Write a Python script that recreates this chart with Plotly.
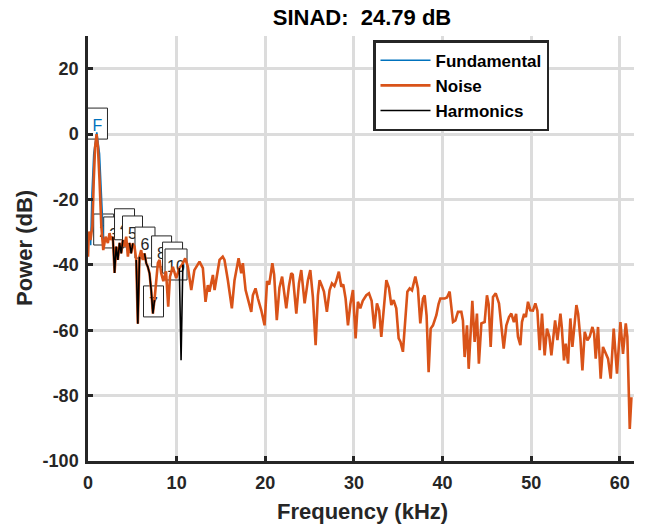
import plotly.graph_objects as go

# ---------------- data ----------------
noise_f = [0.0, 0.1, 0.28, 0.5, 0.65, 0.8, 0.97, 1.12, 1.3, 1.5, 1.72,
           1.98, 2.24, 2.43, 2.6, 2.8, 3.0, 3.18, 3.37, 3.56, 3.75, 3.93, 4.12, 4.31, 4.5,
           4.68, 4.87, 5.06, 5.25, 5.44, 5.62, 5.81, 6.0, 6.19, 6.38, 6.57, 6.75, 6.94,
           7.13, 7.32, 7.5, 7.7, 7.88, 8.07, 8.26, 8.5, 8.8, 9.05, 9.25, 9.57, 9.95,
           10.3, 10.6, 10.97, 11.27, 11.65, 12.0, 12.58, 12.96, 13.26, 13.52, 13.7, 14.09,
           14.28, 14.5, 14.84, 15.2, 15.4, 15.78, 16.23, 16.53, 16.99, 17.29, 17.47, 17.78,
           18.04, 18.42, 18.6, 18.9, 19.17, 19.55, 19.92, 20.2, 20.45, 20.8, 21.0, 21.3,
           21.6, 21.9, 22.37, 22.66, 22.93, 23.1, 23.5, 23.8, 24.06, 24.44, 24.81, 25.08,
           25.37, 25.68, 25.94, 26.13, 26.4, 26.62, 26.95, 27.26, 27.52, 27.8, 28.0, 28.3,
           28.58, 28.8, 29.06, 29.33, 29.6, 29.89, 30.19, 30.45, 30.72, 31.0, 31.4, 31.7,
           32.0, 32.3, 32.6, 32.85, 33.09, 33.35, 33.66, 33.95, 34.22, 34.48, 34.78, 35.05,
           35.25, 35.53, 35.8, 36.03, 36.29, 36.55, 36.93, 37.22, 37.49, 37.79, 37.98, 38.2,
           38.43, 38.66, 38.92, 39.3, 39.55, 39.75, 40.24, 40.5, 40.8, 41.06, 41.18, 41.45,
           41.74, 42.12, 42.3, 42.49, 42.76, 42.95, 43.36, 43.62, 43.88, 44.1, 44.38, 44.75,
           45.01, 45.2, 45.43, 45.69, 46.0, 46.37, 46.64, 46.9, 47.2, 47.5, 47.76, 48.05,
           48.3, 48.51, 48.78, 48.96, 49.2, 49.4, 49.64, 49.91, 50.2, 50.47, 50.7, 50.96,
           51.22, 51.52, 51.78, 52.05, 52.28, 52.54, 52.7, 52.96, 53.3, 53.45, 53.7, 53.9,
           54.16, 54.42, 54.65, 55.1, 55.3, 55.55, 55.78, 56.04, 56.34, 56.6, 56.91, 57.1,
           57.28, 57.54, 57.84, 58.1, 58.4, 58.67, 58.97, 59.31, 59.68, 60.07, 60.36, 60.67,
           60.85, 61.12, 61.31]
noise_db = [-37.5, -29.8, -32.4, -28, -14, -4, 0, -4, -14, -28, -35.5,
            -31.4, -33.3, -30.3, -32.4, -31.4, -42.5, -34.4, -38.5, -33.3, -36.5, -32.4, -34.4, -31.4, -37.5,
            -33.3, -36.5, -33.4, -34.4, -38.5, -58, -37.5, -35.5, -38.5, -36.5, -39.5, -40.6, -42.6,
            -47.7, -54.9, -50.8, -43.6, -39.5, -38.5, -42.6, -45, -42, -52.8, -43.6, -40.6, -44.1,
            -41, -40, -38, -40.6, -47.7, -41.6, -39, -41, -51.3, -46.2, -48.2, -43.1,
            -47.7, -44, -38.5, -37.5, -38.5, -44.7, -53.3, -44.7, -38, -42.6, -39.5, -47.7,
            -50.3, -54.4, -49.3, -47.2, -50.3, -53.9, -58.5, -45, -46, -39.5, -43, -56.9,
            -47, -43.6, -53.3, -46.7, -42.6, -43, -54.9, -45.7, -41.6, -51.8, -44.7, -41.6,
            -49.8, -64.6, -49.3, -44.7, -46.5, -48.2, -54.4, -47.7, -45.7, -46.5, -45, -42.1,
            -46.7, -46, -50.3, -58.5, -52, -47.7, -62.5, -51.3, -53.3, -51, -49.3, -48.7,
            -51, -59.5, -51.8, -54, -62, -52.8, -44.7, -47, -52.3, -50.8, -53.3, -62.5,
            -63.5, -66.6, -57.9, -48.2, -47.2, -47.8, -43.6, -47.2, -57.9, -50.3, -49.3, -55.5,
            -72.8, -59.5, -58.5, -55.4, -52, -50.3, -50.3, -50, -48.2, -54.4, -57.5, -57,
            -54.4, -54.4, -57, -68.2, -58.5, -71.8, -51, -63.6, -54.9, -70.2, -57.9, -57.5,
            -49.3, -52, -65.1, -49.8, -48.7, -51.8, -59, -65.6, -58.5, -56, -54.9, -57.5,
            -55, -62, -64.6, -57.5, -55, -56, -51.3, -53.9, -54, -51.8, -54, -66.1,
            -54.9, -67.7, -59.5, -62, -67.7, -59.5, -57, -63, -54.9, -59, -69.2, -64.1,
            -70.2, -56.4, -65.1, -52.3, -55, -62.5, -72.3, -60.5, -63.1, -62, -59, -61,
            -68.7, -59, -74.8, -65.1, -67, -68.7, -74.8, -59.5, -73.3, -57.5, -67.2, -57.9,
            -62, -90.2, -80.5]

fund_f = [0.3, 0.45, 0.65, 0.99, 1.3, 1.5, 1.78]
fund_db = [-34, -18, -6, 0.5, -6, -18, -34.5]

harm_seg_f = [2.8, 3.0, 3.18, 3.37, 3.56, 3.75, 3.93, None,
              4.68, 4.87, 5.06, None,
              5.44, 5.62, 5.81, None,
              6.38, 6.57, 6.75, 6.94, 7.13, 7.32, 7.5, None,
              10.3, 10.5, 10.7]
harm_seg_db = [-31.4, -42.5, -34.4, -38.5, -33.3, -36.5, -32.4, None,
               -33.3, -36.5, -33.4, None,
               -38.5, -58, -37.5, None,
               -36.5, -39.5, -40.6, -42.6, -47.7, -54.9, -50.8, None,
               -41, -69.2, -40]

label_text = ["F", "2", "3", "4", "5", "6", "7", "8", "9", "10"]
label_f = [1.07, 1.77, 2.9, 4.12, 5.02, 6.43, 7.39, 8.3, 9.54, 9.93]
label_db = [0.0, -32.4, -33.3, -30.8, -33.0, -36.4, -54.4, -39.1, -41.0, -43.1]

x_tick_vals = [0, 10, 20, 30, 40, 50, 60]
y_tick_vals = [-100, -80, -60, -40, -20, 0, 20]
y_tick_text = ["-100", "-80", "-60", "-40", "-20", "0", "20"]

title_text = "SINAD:\u00a0 24.79 dB"
x_title = "Frequency (kHz)"
y_title = "Power (dB)"

# ---------------- figure ----------------
BLUE = "#0072BD"
ORANGE = "#D95319"
AX = "#262626"
FONT = "Liberation Sans"

W, H = 645, 525
ML, MR, MT, MB = 88, 11, 36, 64
XR = [0, 61.6]
YR = [-100, 30]
PW, PH = W - ML - MR, H - MT - MB
px_per_x = PW / (XR[1] - XR[0])
px_per_y = PH / (YR[1] - YR[0])

fig = go.Figure()
fig.add_trace(go.Scatter(x=fund_f, y=fund_db, mode="lines", name="Fundamental",
                         line=dict(color=BLUE, width=1.6)))
fig.add_trace(go.Scatter(x=noise_f, y=noise_db, mode="lines", name="Noise",
                         line=dict(color=ORANGE, width=2.6)))
fig.add_trace(go.Scatter(x=harm_seg_f, y=harm_seg_db, mode="lines", name="Harmonics",
                         line=dict(color="black", width=1.6), connectgaps=False))

shapes = []
for t, f, d in zip(label_text, label_f, label_db):
    half = 11 if len(t) > 1 else 10
    shapes.append(dict(
        type="rect", xref="x", yref="y",
        x0=f - half / px_per_x, x1=f + half / px_per_x,
        y0=d - 5 / px_per_y, y1=d + 26 / px_per_y,
        fillcolor="white", line=dict(color=AX, width=1), layer="between",
        label=dict(text=t, textposition="middle center",
                   font=dict(family=FONT, size=16, color=BLUE if t == "F" else AX)),
    ))

annotations = [
    dict(text=x_title, xref="paper", yref="paper",
         x=(362 - ML) / PW, y=-(511 - (H - MB)) / PH, xanchor="center", yanchor="middle",
         showarrow=False, font=dict(family=FONT, size=22, color=AX, weight="bold")),
    dict(text=y_title, xref="paper", yref="paper", textangle=-90,
         x=-(ML - 25) / PW, y=((H - MB) - 248) / PH, xanchor="center", yanchor="middle",
         showarrow=False, font=dict(family=FONT, size=22, color=AX, weight="bold")),
]

fig.update_layout(
    width=W, height=H,
    margin=dict(l=ML, r=MR, t=MT, b=MB, autoexpand=False),
    paper_bgcolor="white", plot_bgcolor="white",
    shapes=shapes, annotations=annotations,
    title=dict(text=title_text, x=362 / W, xanchor="center", y=1 - 17 / H, yanchor="middle",
               font=dict(family=FONT, size=22, color="black", weight="bold")),
    showlegend=True,
    legend=dict(x=(373 - ML) / PW, y=0.99, xanchor="left", yanchor="top",
                bgcolor="white", bordercolor=AX, borderwidth=2.5, itemwidth=50,
                font=dict(family=FONT, size=17, color="black", weight="bold"),
                tracegroupgap=0),
    xaxis=dict(range=XR, tickvals=x_tick_vals, automargin=False,
               showline=True, linecolor=AX, linewidth=2.5, mirror=False,
               ticks="inside", ticklen=5, tickwidth=2.5, tickcolor=AX,
               showgrid=True, gridcolor="#dcdcdc", gridwidth=2.5, zeroline=False,
               tickfont=dict(family=FONT, size=18, color=AX, weight="bold"),
               ticklabelstandoff=4),
    yaxis=dict(range=YR, tickvals=y_tick_vals, ticktext=y_tick_text, automargin=False,
               showline=True, linecolor=AX, linewidth=2.5, mirror=False,
               ticks="inside", ticklen=5, tickwidth=2.5, tickcolor=AX,
               showgrid=True, gridcolor="#dcdcdc", gridwidth=2.5, zeroline=False,
               tickfont=dict(family=FONT, size=18, color=AX, weight="bold"),
               ticklabelstandoff=3),
)

# remove the browser's default 8 px page margin so the figure fills the window
fig.write_html("out.html", config={"displayModeBar": False},
               post_script="document.body.style.margin='0px';")
